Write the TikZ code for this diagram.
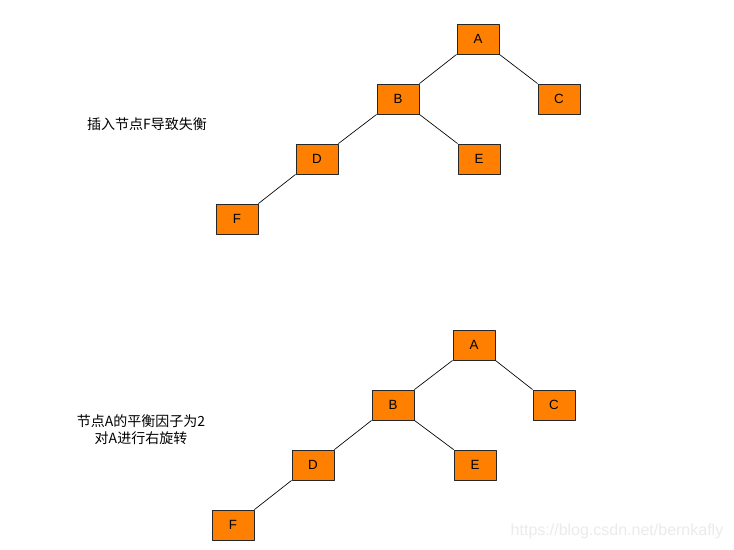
\documentclass[tikz,border=0pt]{standalone}
\usepackage{fontspec}
\setmainfont{Liberation Sans}
\newfontfamily\cjk{Noto Sans CJK SC}
\definecolor{boxorange}{RGB}{255,128,0}
\begin{document}
\begin{tikzpicture}[x=0.75pt,y=-0.75pt,font=\fontsize{10}{12}\selectfont,line join=round,
    tnode/.style={draw=black!85,fill=boxorange,line width=0.6pt,minimum width=31.5pt,minimum height=22.5pt,inner sep=0pt},
    tedge/.style={line width=0.5pt}]
    \useasboundingbox[fill=white] (0,0) rectangle (734,549);
    % before: F inserted
    \node[tnode] (a1) at (478,39) {A};
    \node[tnode] (b1) at (398,99) {B};
    \node[tnode] (c1) at (559,99) {C};
    \node[tnode] (d1) at (317,159) {D};
    \node[tnode] (e1) at (479,159) {E};
    \node[tnode] (f1) at (237,219) {F};
    \draw[tedge] (a1.south west)--(b1.north east);
    \draw[tedge] (a1.south east)--(c1.north west);
    \draw[tedge] (b1.south west)--(d1.north east);
    \draw[tedge] (b1.south east)--(e1.north west);
    \draw[tedge] (d1.south west)--(f1.north east);
    \node[font=\cjk\fontsize{10.5}{12}\selectfont] (t1) at (147,124) {插入节点F导致失衡};
    % after
    \node[tnode] (a2) at (474,345) {A};
    \node[tnode] (b2) at (393,405) {B};
    \node[tnode] (c2) at (554,405) {C};
    \node[tnode] (d2) at (313,465) {D};
    \node[tnode] (e2) at (475,465) {E};
    \node[tnode] (f2) at (233,525) {F};
    \draw[tedge] (a2.south west)--(b2.north east);
    \draw[tedge] (a2.south east)--(c2.north west);
    \draw[tedge] (b2.south west)--(d2.north east);
    \draw[tedge] (b2.south east)--(e2.north west);
    \draw[tedge] (d2.south west)--(f2.north east);
    \node[font=\cjk\fontsize{10.5}{13}\selectfont,align=center] (t2) at (141,430) {节点A的平衡因子为2\\对A进行右旋转};
    \node[text=black!8,font=\fontsize{12}{14}\selectfont] (wm) at (617,531) {https://blog.csdn.net/bernkafly};
\end{tikzpicture}
\end{document}
